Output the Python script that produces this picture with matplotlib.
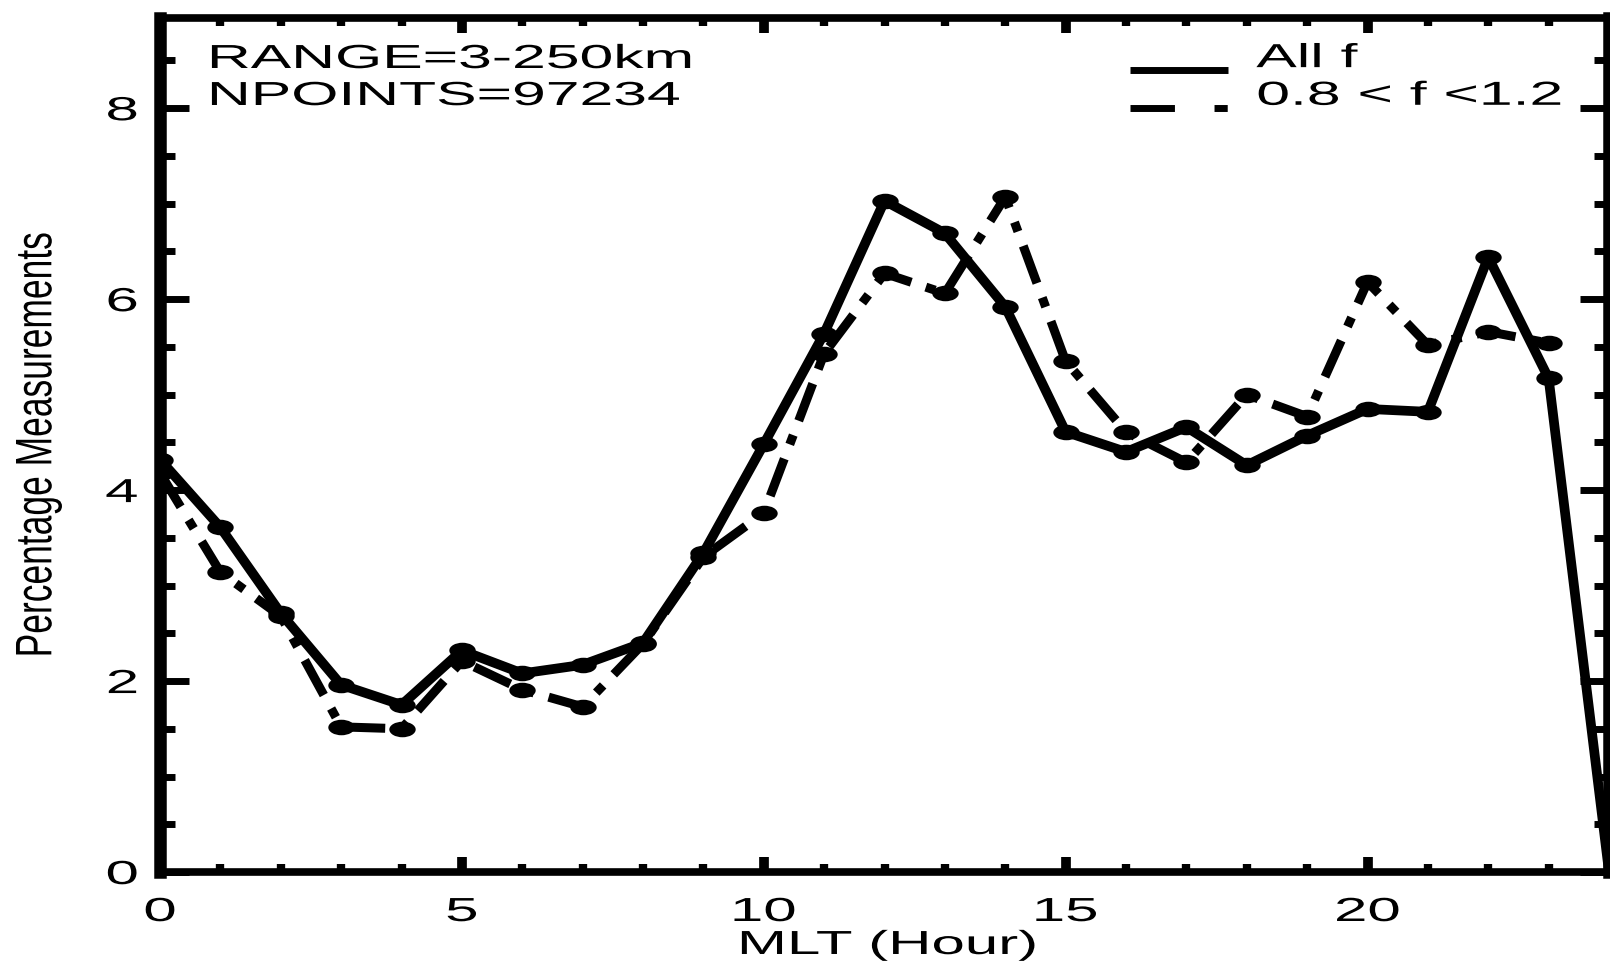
import matplotlib
matplotlib.use("Agg")
import matplotlib.pyplot as plt
import numpy as np
from matplotlib.legend_handler import HandlerLine2D
from matplotlib.lines import Line2D
from matplotlib.path import Path
from matplotlib.patheffects import AbstractPathEffect
from matplotlib.ticker import MultipleLocator
from matplotlib.transforms import Affine2D

# percentage of measurements per MLT hour
mlt_all = list(range(25))
pct_all = [4.32, 3.61, 2.71, 1.96, 1.75, 2.32, 2.08, 2.17, 2.40, 3.34,
           4.48, 5.64, 7.03, 6.69, 5.92, 4.61, 4.40, 4.66, 4.26, 4.57,
           4.85, 4.82, 6.44, 5.17, 0.0]

mlt_band = list(range(24))
pct_band = [4.18, 3.14, 2.68, 1.52, 1.50, 2.21, 1.91, 1.73, 2.39, 3.30,
            3.76, 5.43, 6.27, 6.06, 7.07, 5.35, 4.61, 4.29, 5.00, 4.77,
            6.18, 5.52, 5.66, 5.54]

series_labels = ["All f", "0.8 < f <1.2"]
info_lines = ["RANGE=3-250km", "NPOINTS=97234"]

x_major = [0, 5, 10, 15, 20]
y_major = [0, 2, 4, 6, 8]


class Widen(AbstractPathEffect):
    """Stretch text glyphs about an anchor (IDL-style wide lettering)."""

    def __init__(self, sx=1.8, sy=1.0, anchor="center"):
        super().__init__()
        self.sx = sx
        self.sy = sy
        self.anchor = anchor

    def draw_path(self, renderer, gc, tpath, affine, rgbFace=None):
        ext = tpath.get_extents()
        if self.anchor == "left":
            cx = 0.0
        elif self.anchor == "right":
            cx = ext.x1
        else:
            cx = 0.5 * (ext.x0 + ext.x1)
        cy = 0.5 * (ext.y0 + ext.y1)
        stretch = Affine2D().translate(-cx, -cy).scale(self.sx, self.sy).translate(cx, cy)
        renderer.draw_path(gc, tpath, stretch + affine, rgbFace)


class BaselineLine(HandlerLine2D):
    # legend keys sit on the text baseline
    def create_artists(self, legend, orig_handle, xdescent, ydescent,
                       width, height, fontsize, trans):
        artists = super().create_artists(legend, orig_handle, xdescent, ydescent,
                                         width, height, fontsize, trans)
        for a in artists:
            a.set_ydata(np.asarray(a.get_ydata()) - 0.44 * fontsize)
        return artists


plt.rcParams["font.family"] = ["Liberation Sans", "DejaVu Sans"]
plt.rcParams["font.size"] = 24

fig = plt.figure(figsize=(16.1, 9.66), dpi=100)
ax = fig.add_axes([160 / 1610, 94 / 966, 1449 / 1610, 854.5 / 966])

# flattened dots, wider than tall
dot = Affine2D().scale(1.7, 1.0).transform_path(Path.unit_circle())
dash_dot = (0, (4.4, 1.7, 1.1, 1.7))

ax.plot(mlt_band, pct_band, color="black", lw=6.5, linestyle=dash_dot,
        dash_capstyle="butt", marker=dot, markersize=19, markeredgewidth=0, zorder=3)
ax.plot(mlt_all, pct_all, color="black", lw=7, solid_joinstyle="round",
        marker=dot, markersize=19, markeredgewidth=0, markevery=slice(0, 24), zorder=4)

ax.set_xlim(0, 24)
ax.set_ylim(0, 8.95)
ax.set_xticks(x_major)
ax.set_yticks(y_major)
ax.xaxis.set_minor_locator(MultipleLocator(1))
ax.yaxis.set_minor_locator(MultipleLocator(0.5))

ax.tick_params(which="both", direction="in", top=True, right=True, color="black")
ax.tick_params(axis="x", which="major", length=11, width=7, pad=18)
ax.tick_params(axis="x", which="minor", length=6, width=6)
ax.tick_params(axis="y", which="major", length=21, width=5, pad=16)
ax.tick_params(axis="y", which="minor", length=11, width=5)

for side in ["left", "right"]:
    ax.spines[side].set_linewidth(9)
for side in ["top", "bottom"]:
    ax.spines[side].set_linewidth(5.5)

for lab in ax.get_xticklabels():
    lab.set_path_effects([Widen(1.8, 1.0, "center")])
for lab in ax.get_yticklabels():
    lab.set_path_effects([Widen(1.8, 1.0, "right")])

ax.set_xlabel("MLT (Hour)", fontsize=24, va="center")
ax.xaxis.set_label_coords(0.5024, -0.0860)
ax.xaxis.label.set_path_effects([Widen(1.8, 1.0, "center")])

ax.set_ylabel("Percentage Measurements", fontsize=25.5, va="center")
ax.yaxis.set_label_coords(-0.0842, 0.5)
ax.yaxis.label.set_path_effects([Widen(1.0, 1.45, "center")])

for txt, ypos in zip(info_lines, [0.9409, 0.8976]):
    t = ax.text(0.0324, ypos, txt, transform=ax.transAxes, ha="left",
                va="baseline", fontsize=24)
    t.set_path_effects([Widen(1.82, 1.0, "left")])

keys = [Line2D([], [], color="black", lw=5, solid_capstyle="butt"),
        Line2D([], [], color="black", lw=5, linestyle=(0, (6.4, 5.7, 1.9, 5.7)),
               dash_capstyle="butt")]
leg = ax.legend(keys, series_labels, loc="upper left", bbox_to_anchor=(0.6694, 0.970),
                frameon=False, borderpad=0, borderaxespad=0, handlelength=2.94,
                handletextpad=0.85, labelspacing=0.2, fontsize=24,
                handler_map={Line2D: BaselineLine()})
for t in leg.get_texts():
    t.set_path_effects([Widen(1.82, 1.0, "left")])

fig.savefig("out.png", dpi=100, facecolor="white")
